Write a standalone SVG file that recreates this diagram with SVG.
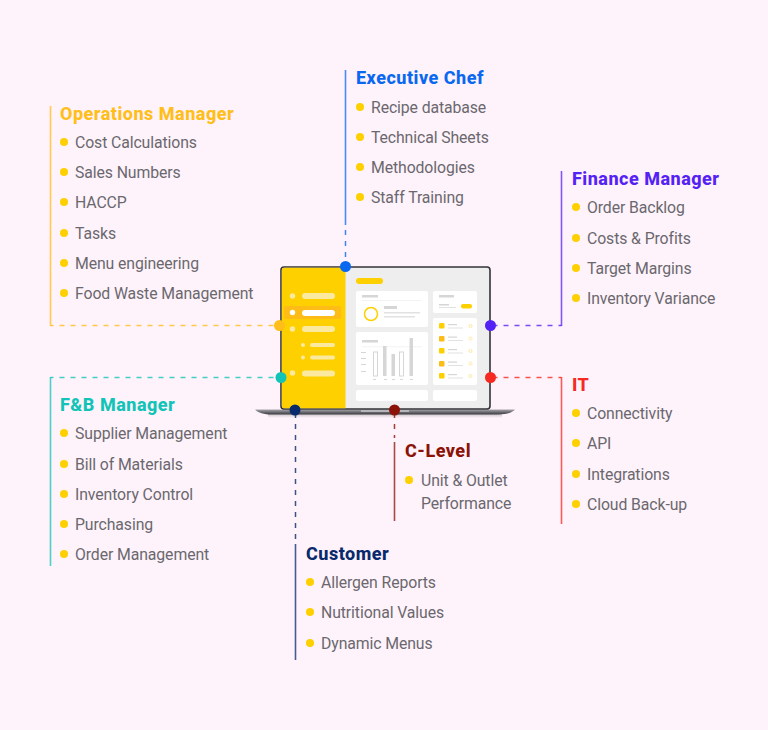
<svg xmlns="http://www.w3.org/2000/svg" width="768" height="730" viewBox="0 0 768 730">
<style>
text{font-family:"Roboto","Liberation Sans",sans-serif}
.i{font-size:15.8px;fill:#6a686e;letter-spacing:-.1px}
.h{font-size:18px;font-weight:800;letter-spacing:.5px}
.b{fill:#ffd000}
.d{fill:none;stroke-width:1.5;stroke-dasharray:5 6;stroke-dashoffset:2;opacity:.8}
.s{fill:none;stroke-width:1.6;opacity:.75}
.w{fill:#fff}
.y{fill:#ffd000}
.g{fill:#d6d6d6}
.l{fill:#fbe9a0}
</style>
<defs>
<linearGradient id="base" x1="0" y1="0" x2="0" y2="1"><stop offset="0" stop-color="#a5a5aa"/><stop offset="1" stop-color="#38383f"/></linearGradient>
<linearGradient id="sh" x1="0" y1="0" x2="0" y2="1"><stop offset="0" stop-color="#888" stop-opacity=".45"/><stop offset="1" stop-color="#888" stop-opacity="0"/></linearGradient>
</defs>
<rect width="768" height="730" fill="#fff3fb"/>
<g id="laptop">
<rect x="268" y="414" width="234" height="4" fill="url(#sh)"/>
<path d="M255 409.500H515C512 413 506 414.500 498 414.500H272C264 414.500 258 413 255 409.500Z" fill="url(#base)"/>
<rect x="361" y="409.500" width="48" height="2.500" fill="#b5b5ba"/>
<rect x="281" y="267" width="209" height="142" rx="3" fill="#eeeeee" stroke="#333338" stroke-width="1.6"/>
<path d="M345.500 267.800V408.200H284C282.800 408.200 281.800 407.200 281.800 406V270C281.800 268.800 282.800 267.800 284 267.800Z" class="y"/>
<rect x="284" y="306" width="57" height="13" rx="2" fill="#fdbd16"/>
<circle cx="292.500" cy="296" r="2.700" class="l"/><rect x="302" y="293" width="33" height="6" rx="3" class="l"/>
<circle cx="292.500" cy="312.500" r="2.700" class="w"/><rect x="302" y="310" width="33" height="6" rx="3" class="w"/>
<circle cx="292.500" cy="329" r="2.700" class="l"/><rect x="302" y="326" width="33" height="6" rx="3" class="l"/>
<circle cx="303" cy="345" r="2" class="l"/><rect x="310" y="343" width="25" height="4" rx="2" class="l"/>
<circle cx="303" cy="357.500" r="2" class="l"/><rect x="310" y="355.500" width="25" height="4" rx="2" class="l"/>
<circle cx="292.500" cy="373" r="2.700" class="l"/><rect x="302" y="370.500" width="33" height="6" rx="3" class="l"/>
<rect x="356" y="278" width="27" height="6" rx="3" class="y"/>
<rect x="356" y="291" width="72" height="36" rx="2" class="w"/>
<rect x="362" y="295" width="16" height="2.500" class="g"/><rect x="362" y="300" width="60" height=".7" fill="#eee"/>
<circle cx="371" cy="314" r="6.500" fill="none" stroke="#ffd000" stroke-width="1.500"/>
<rect x="384" y="306" width="13" height="3" class="g"/><rect x="384" y="312" width="36" height="1.500" fill="#e2e2e2"/><rect x="384" y="316" width="31" height="1.500" fill="#e2e2e2"/>
<rect x="356" y="332" width="72" height="53" rx="2" class="w"/>
<rect x="362" y="340" width="16" height="2.500" class="g"/><rect x="362" y="346.500" width="60" height=".7" fill="#eee"/>
<rect x="361" y="352" width="5" height="1" class="g"/><rect x="361" y="358" width="5" height="1" class="g"/><rect x="361" y="364" width="5" height="1" class="g"/><rect x="361" y="371" width="5" height="1" class="g"/>
<rect x="373.500" y="352" width="4" height="24" fill="#fff" stroke="#d6d6d6"/>
<rect x="383" y="346" width="3.500" height="30" class="g"/>
<rect x="391.500" y="354" width="3.500" height="22" class="g"/>
<rect x="399.500" y="352" width="4" height="24" fill="#fff" stroke="#d6d6d6"/>
<rect x="409.500" y="338" width="3.500" height="38" class="g"/>
<rect x="373" y="379" width="3" height="1" class="g"/><rect x="384" y="379" width="3" height="1" class="g"/><rect x="392" y="379" width="3" height="1" class="g"/><rect x="400" y="379" width="3" height="1" class="g"/><rect x="410" y="379" width="3" height="1" class="g"/>
<rect x="356" y="390" width="72" height="11" rx="2" class="w"/>
<rect x="433" y="291" width="44" height="22" rx="2" class="w"/>
<rect x="439" y="295" width="15" height="2.500" class="g"/><rect x="439" y="304" width="10" height="1.500" class="g"/><rect x="439" y="307" width="17" height="1" fill="#e2e2e2"/>
<rect x="461" y="304" width="11" height="4.500" rx="2" class="y"/>
<rect x="433" y="318" width="44" height="67" rx="2" class="w"/>
<g class="y"><rect x="439" y="323" width="5.500" height="5.500" rx="1"/><rect x="439" y="348" width="5.500" height="5.500" rx="1"/><rect x="439" y="373" width="5.500" height="5.500" rx="1"/></g>
<g fill="#fdbd16"><rect x="439" y="336" width="5.500" height="5.500" rx="1"/><rect x="439" y="361" width="5.500" height="5.500" rx="1"/></g>
<g class="g"><rect x="448" y="324" width="9" height="1.200"/><rect x="448" y="336.500" width="9" height="1.200"/><rect x="448" y="349" width="9" height="1.200"/><rect x="448" y="361.500" width="9" height="1.200"/><rect x="448" y="374" width="9" height="1.200"/></g>
<g fill="#e2e2e2"><rect x="448" y="327.500" width="15" height="1"/><rect x="448" y="340" width="15" height="1"/><rect x="448" y="352.500" width="15" height="1"/><rect x="448" y="365" width="15" height="1"/><rect x="448" y="377.500" width="15" height="1"/></g>
<g fill="none" stroke="#fbe9a0"><circle cx="470.500" cy="326" r="1.500"/><circle cx="470.500" cy="338.500" r="1.500"/><circle cx="470.500" cy="351" r="1.500"/><circle cx="470.500" cy="363.500" r="1.500"/><circle cx="470.500" cy="376" r="1.500"/></g>
<rect x="433" y="390" width="44" height="11" rx="2" class="w"/>
</g>
<g id="connectors">
<path class="s" stroke="#ffbe1a" d="M50.500 106V326"/><path class="d" stroke="#ffbe1a" d="M50.500 325.500H279"/>
<path class="s" stroke="#0a68f0" d="M345.500 70V225"/><path class="d" stroke="#0a68f0" d="M345.500 266V230"/>
<path class="s" stroke="#5522f5" d="M561.500 171V326"/><path class="d" stroke="#5522f5" d="M561.500 325.500H491"/>
<path class="s" stroke="#12c4b8" d="M50.500 377V566"/><path class="d" stroke="#12c4b8" d="M50.500 377.500H281"/>
<path class="s" stroke="#f52a22" d="M561.500 377V524"/><path class="d" stroke="#f52a22" d="M561.500 377.500H491"/>
<path class="s" stroke="#8a1206" d="M394.500 442V521"/><path class="d" stroke="#8a1206" d="M394.500 415V438"/>
<path class="s" stroke="#08296b" d="M295.500 544V660"/><path class="d" stroke="#08296b" d="M295.500 415V539"/>
<circle cx="279.500" cy="325.500" r="5.500" fill="#ffbe1a"/><circle cx="345.500" cy="266.500" r="5.500" fill="#0a68f0"/><circle cx="490.500" cy="325.500" r="5.500" fill="#5522f5"/><circle cx="281" cy="377.500" r="5.500" fill="#12c4b8"/><circle cx="490.500" cy="377.500" r="5.500" fill="#f52a22"/><circle cx="394.500" cy="410" r="5.500" fill="#8a1206"/><circle cx="295" cy="410" r="5.500" fill="#08296b"/>
</g>
<g id="operations-manager">
<text class="h" x="60" y="119.500" fill="#ffbe1a">Operations Manager</text>
<circle class="b" cx="64" cy="142" r="4"/><text class="i" x="75" y="147.500">Cost Calculations</text>
<circle class="b" cx="64" cy="172" r="4"/><text class="i" x="75" y="177.500">Sales Numbers</text>
<circle class="b" cx="64" cy="202" r="4"/><text class="i" x="75" y="207.500">HACCP</text>
<circle class="b" cx="64" cy="233" r="4"/><text class="i" x="75" y="238.500">Tasks</text>
<circle class="b" cx="64" cy="263" r="4"/><text class="i" x="75" y="268.500">Menu engineering</text>
<circle class="b" cx="64" cy="293" r="4"/><text class="i" x="75" y="298.500">Food Waste Management</text>
</g>
<g id="executive-chef">
<text class="h" x="356" y="84" fill="#0a68f0">Executive Chef</text>
<circle class="b" cx="360" cy="107" r="4"/><text class="i" x="371" y="112.500">Recipe database</text>
<circle class="b" cx="360" cy="137" r="4"/><text class="i" x="371" y="142.500">Technical Sheets</text>
<circle class="b" cx="360" cy="167" r="4"/><text class="i" x="371" y="172.500">Methodologies</text>
<circle class="b" cx="360" cy="197" r="4"/><text class="i" x="371" y="203">Staff Training</text>
</g>
<g id="finance-manager">
<text class="h" x="572" y="185" fill="#5522f5">Finance Manager</text>
<circle class="b" cx="576" cy="207" r="4"/><text class="i" x="587" y="213">Order Backlog</text>
<circle class="b" cx="576" cy="238" r="4"/><text class="i" x="587" y="243.500">Costs &amp; Profits</text>
<circle class="b" cx="576" cy="268" r="4"/><text class="i" x="587" y="273.500">Target Margins</text>
<circle class="b" cx="576" cy="298" r="4"/><text class="i" x="587" y="303.500">Inventory Variance</text>
</g>
<g id="fb-manager">
<text class="h" x="60" y="411" fill="#12c4b8">F&amp;B Manager</text>
<circle class="b" cx="64" cy="433" r="4"/><text class="i" x="75" y="439">Supplier Management</text>
<circle class="b" cx="64" cy="464" r="4"/><text class="i" x="75" y="469.500">Bill of Materials</text>
<circle class="b" cx="64" cy="494" r="4"/><text class="i" x="75" y="499.500">Inventory Control</text>
<circle class="b" cx="64" cy="524" r="4"/><text class="i" x="75" y="529.500">Purchasing</text>
<circle class="b" cx="64" cy="554" r="4"/><text class="i" x="75" y="560">Order Management</text>
</g>
<g id="it">
<text class="h" x="572" y="391" fill="#f52a22">IT</text>
<circle class="b" cx="576" cy="413" r="4"/><text class="i" x="587" y="419">Connectivity</text>
<circle class="b" cx="576" cy="443" r="4"/><text class="i" x="587" y="449">API</text>
<circle class="b" cx="576" cy="474" r="4"/><text class="i" x="587" y="479.500">Integrations</text>
<circle class="b" cx="576" cy="504" r="4"/><text class="i" x="587" y="509.500">Cloud Back-up</text>
</g>
<g id="c-level">
<text class="h" x="405" y="457" fill="#8a1206">C-Level</text>
<circle class="b" cx="409" cy="480" r="4"/><text class="i" x="421" y="485.500">Unit &amp; Outlet</text>
<text class="i" x="421" y="508.500">Performance</text>
</g>
<g id="customer">
<text class="h" x="306" y="560" fill="#08296b">Customer</text>
<circle class="b" cx="310" cy="582" r="4"/><text class="i" x="321" y="588">Allergen Reports</text>
<circle class="b" cx="310" cy="612" r="4"/><text class="i" x="321" y="618">Nutritional Values</text>
<circle class="b" cx="310" cy="643" r="4"/><text class="i" x="321" y="648.500">Dynamic Menus</text>
</g>
</svg>
